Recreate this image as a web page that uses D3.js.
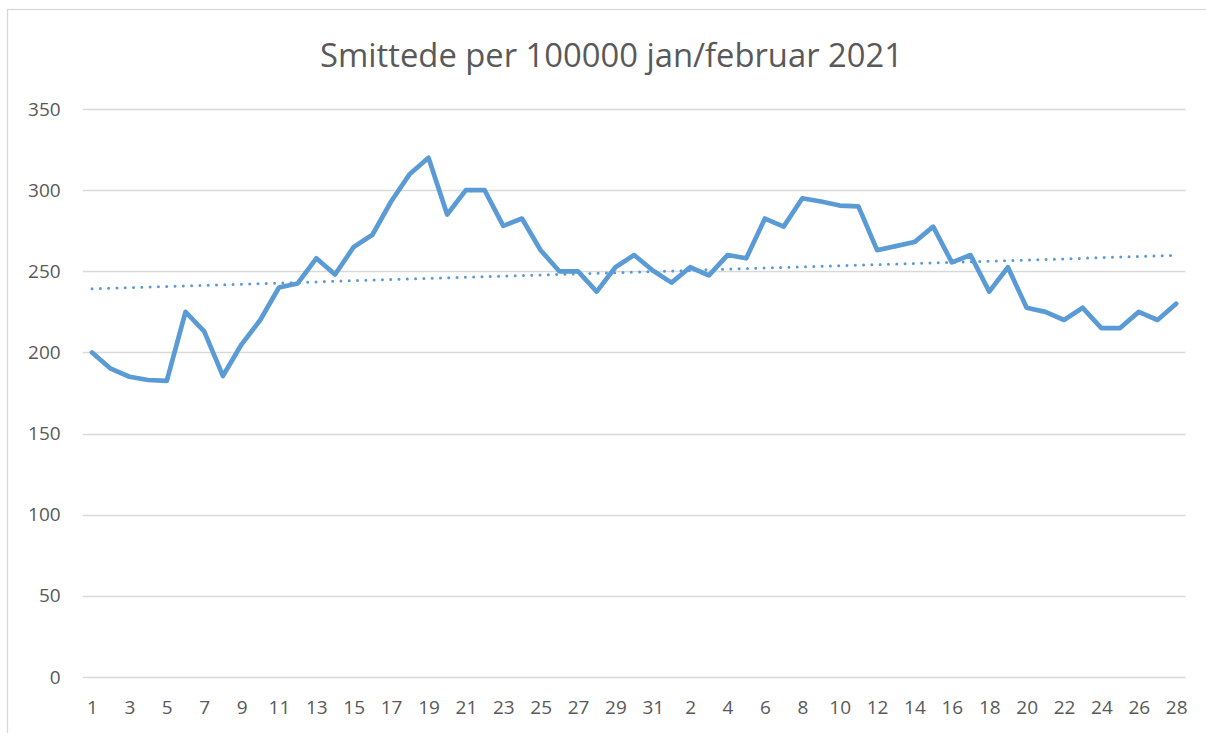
<!DOCTYPE html>
<html>
<head>
<meta charset="utf-8">
<script src="https://cdn.jsdelivr.net/npm/d3@7"></script>
<style>
  body { margin: 0; background: #fff; }
  svg { display: block; font-family: "Open Sans", "Liberation Sans", sans-serif; }
</style>
</head>
<body>
<div id="chart"></div>
<script>
// Canvas
const width = 1206;
const height = 733;
const margin = { top: 109, right: 20, bottom: 56, left: 83 };

// Data: days of January and February 2021
const janDays = d3.range(1, 32);
const febDays = d3.range(1, 29);
const janValues = [200, 190, 185, 183, 182.5, 225, 213, 185.5, 205, 220,
                   240, 242.5, 258, 248, 265, 272.5, 293, 310, 320, 285,
                   300, 300, 278, 282.5, 263, 250, 250, 237.5, 252.5, 260, 250.5];
const febValues = [243, 252.5, 247.5, 260, 258, 282.5, 277.5, 295, 293, 290.5,
                   290, 263, 265.5, 268, 277.5, 255.5, 260, 237.5, 252.5, 227.5,
                   225, 220, 227.5, 215, 215, 225, 220, 230];
const yTicks = [0, 50, 100, 150, 200, 250, 300, 350];
const title = "Smittede per 100000 jan/februar 2021";

const data = janDays.map((d, i) => ({ key: "j" + d, label: d, value: janValues[i] }))
  .concat(febDays.map((d, i) => ({ key: "f" + d, label: d, value: febValues[i] })));

const svg = d3.select("#chart")
  .append("svg")
  .attr("width", width)
  .attr("height", height);

// Outer chart border
svg.append("rect")
  .attr("x", 7.5).attr("y", 9.5)
  .attr("width", 1205).attr("height", 740)
  .attr("fill", "#fff")
  .attr("stroke", "#d9d9d9")
  .attr("stroke-width", 1.3);

const plotLeft = 82.7, plotRight = 1185.5;
const x = d3.scalePoint()
  .domain(data.map(d => d.key))
  .range([plotLeft, plotRight])
  .padding(0.5);

const y = d3.scaleLinear()
  .domain([0, 350])
  .range([677, 109]);

// Gridlines
svg.append("g")
  .selectAll("line")
  .data(yTicks)
  .join("line")
  .attr("x1", plotLeft).attr("x2", plotRight)
  .attr("y1", d => Math.round(y(d)) + 0.5)
  .attr("y2", d => Math.round(y(d)) + 0.5)
  .attr("stroke", "#d9d9d9")
  .attr("stroke-width", 1.3);

// Y axis labels
const yAxis = d3.axisLeft(y).tickValues(yTicks).tickSize(0).tickPadding(22);
svg.append("g")
  .attr("transform", `translate(${plotLeft},0)`)
  .call(yAxis)
  .call(g => g.select(".domain").remove())
  .selectAll("text")
  .attr("font-family", "'Open Sans', sans-serif")
  .attr("font-size", 19)
  .attr("fill", "#595959");

// X axis labels (every other day)
const xAxis = d3.axisBottom(x)
  .tickValues(data.filter((d, i) => i % 2 === 0).map(d => d.key))
  .tickFormat(k => data.find(d => d.key === k).label)
  .tickSize(0)
  .tickPadding(24);
svg.append("g")
  .attr("transform", `translate(0,677)`)
  .call(xAxis)
  .call(g => g.select(".domain").remove())
  .selectAll("text")
  .attr("font-family", "'Open Sans', sans-serif")
  .attr("font-size", 19)
  .attr("fill", "#595959");

// Linear trendline (least squares over the data)
const n = data.length;
const xs = d3.range(n);
const mx = d3.mean(xs), my = d3.mean(data, d => d.value);
const slope = d3.sum(xs, i => (i - mx) * (data[i].value - my)) / d3.sum(xs, i => (i - mx) ** 2);
const icpt = my - slope * mx;
svg.append("line")
  .attr("x1", x(data[0].key)).attr("x2", x(data[n - 1].key))
  .attr("y1", y(icpt)).attr("y2", y(icpt + slope * (n - 1)))
  .attr("stroke", "#5b9bd5")
  .attr("stroke-width", 3)
  .attr("stroke-linecap", "round")
  .attr("stroke-dasharray", "0 8.3");

// Main line
const line = d3.line()
  .x(d => x(d.key))
  .y(d => y(d.value));
svg.append("path")
  .datum(data)
  .attr("d", line)
  .attr("fill", "none")
  .attr("stroke", "#5b9bd5")
  .attr("stroke-width", 4.7)
  .attr("stroke-linejoin", "round")
  .attr("stroke-linecap", "round");

// Title, fitted to the width of the original
const t = svg.append("text")
  .attr("x", 611.5).attr("y", 67)
  .attr("text-anchor", "middle")
  .attr("font-family", "'Open Sans', sans-serif")
  .attr("font-size", 30)
  .attr("fill", "#595959")
  .text(title);
const w = t.node().getComputedTextLength();
t.attr("font-size", 30 * 583 / w);
</script>
</body>
</html>
